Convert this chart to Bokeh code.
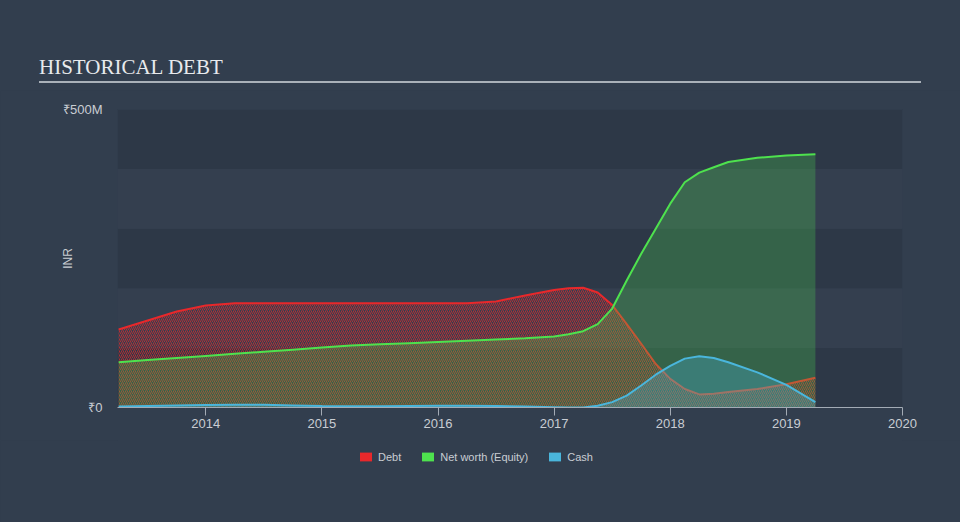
from bokeh.plotting import figure
from bokeh.models import (FixedTicker, Legend, LegendItem, Range1d, ColumnDataSource, Div)
from bokeh.layouts import column
from bokeh.embed import file_html
from bokeh.resources import INLINE

# ---------------- data (values in ₹ millions) ----------------
dates = [2013.25, 2013.5, 2013.75, 2014.0, 2014.25, 2014.5, 2014.75, 2015.0, 2015.25,
         2015.5, 2015.75, 2016.0, 2016.25, 2016.5, 2016.75, 2017.0, 2017.125, 2017.25,
         2017.375, 2017.5, 2017.625, 2017.75, 2017.875, 2018.0, 2018.125, 2018.25,
         2018.375, 2018.5, 2018.75, 2019.0, 2019.25]
debt = [131, 146, 161, 171, 175, 175, 175, 175, 175,
        175, 175, 175, 175, 178, 188, 197, 200, 201,
        193, 172, 140, 107, 73, 48, 31, 22,
        23, 26, 31, 39, 50]
equity = [76, 79.5, 83, 86.5, 90, 93.5, 97, 100.5, 104,
          106, 108, 110, 112, 114, 116, 119, 123, 128,
          140, 166, 213, 258, 300, 342, 378, 394,
          403, 412, 419, 423, 425]
cash = [1.5, 2.5, 3.5, 4, 4.5, 4.5, 3.5, 2.5, 2,
        2, 2.5, 3, 3, 2.5, 1.5, 0.5, 0, 0,
        3, 9, 20, 37, 55, 70, 82, 86,
        83, 76, 59, 38, 9]
year_ticks = [2014, 2015, 2016, 2017, 2018, 2019, 2020]
y_ticks = [0, 500]
y_tick_labels = {0: "₹0", 500: "₹500M"}
band_bottoms = [0, 100, 200, 300, 400]
band_tops = [100, 200, 300, 400, 500]
series_names = ["Debt", "Net worth (Equity)", "Cash"]
title_text = "HISTORICAL DEBT"
y_label = "INR"

# ---------------- style ----------------
BG = "#323e4e"
BAND_DARK = "#2d3847"
BAND_LIGHT = "#343f4f"
RED = "#e8282b"
GREEN = "#4ee24e"
BLUE = "#4ab6dc"
TXT = "#c9cdd3"

X0, X1 = 2013.24, 2020.0
HEAD = 90                              # heading strip height
FL, FR, FT, FB = 117, 902, 109, 407    # frame in page pixels
MAIN_BOTTOM = 440                      # bottom of main figure on the page
LEG_H = 522 - MAIN_BOTTOM

head = Div(
    text=(f'<div style="position:relative;width:960px;height:{HEAD}px;">'
          f'<div style="position:absolute;left:39px;top:57px;font-family:\'Liberation Serif\';'
          f'font-size:21px;line-height:21px;color:#e8eaed;white-space:nowrap;">{title_text}</div>'
          f'<div style="position:absolute;left:39px;top:81px;width:882px;height:1.5px;'
          f'background:#aab1b9;"></div></div>'),
    width=960, height=HEAD, margin=0,
    styles={"background-color": BG},
)

p = figure(width=960, height=MAIN_BOTTOM - HEAD, output_backend="svg", toolbar_location=None,
           x_range=Range1d(X0, X1), y_range=Range1d(0, 500),
           min_border_left=FL, min_border_right=960 - FR,
           min_border_top=FT - HEAD, min_border_bottom=MAIN_BOTTOM - FB, margin=0)
p.background_fill_color = BG
p.border_fill_color = BG
p.outline_line_color = None
p.grid.visible = False

# horizontal bands
band_colors = [BAND_DARK if i % 2 == 0 else BAND_LIGHT for i in range(len(band_bottoms))]
p.quad(left=X0, right=X1, bottom=band_bottoms, top=band_tops, fill_color=band_colors,
       line_color=None)

src = ColumnDataSource(dict(x=dates, debt=debt, equity=equity, cash=cash))

# debt: hatched area + line
p.varea(x="x", y1=0, y2="debt", source=src, fill_alpha=0,
        hatch_pattern="/", hatch_color=RED, hatch_alpha=0.7, hatch_scale=4, hatch_weight=1)
p.line(x="x", y="debt", source=src, line_color=RED, line_width=2)

# equity: translucent area + line
p.varea(x="x", y1=0, y2="equity", source=src, fill_color=GREEN, fill_alpha=0.25)
p.line(x="x", y="equity", source=src, line_color=GREEN, line_width=2)

# cash
p.varea(x="x", y1=0, y2="cash", source=src, fill_color=BLUE, fill_alpha=0.3)
p.line(x="x", y="cash", source=src, line_color=BLUE, line_width=2)

# axes
xa = p.xaxis[0]
xa.ticker = FixedTicker(ticks=year_ticks)
xa.axis_line_color = "#a3abb5"
xa.major_tick_line_color = "#a3abb5"
xa.major_tick_in = 0
xa.major_tick_out = 8
xa.minor_tick_line_color = None
xa.major_label_text_color = TXT
xa.major_label_text_font = "Liberation Sans"
xa.major_label_text_font_size = "13px"
xa.major_label_standoff = 3

ya = p.yaxis[0]
ya.ticker = FixedTicker(ticks=y_ticks)
ya.major_label_overrides = y_tick_labels
ya.axis_line_color = None
ya.major_tick_line_color = None
ya.minor_tick_line_color = None
ya.major_label_text_color = TXT
ya.major_label_text_font = "Liberation Sans"
ya.major_label_text_font_size = "13px"
ya.major_label_standoff = 9
ya.axis_label = y_label
ya.axis_label_text_font = "Liberation Sans"
ya.axis_label_text_font_style = "normal"
ya.axis_label_text_font_size = "12px"
ya.axis_label_text_color = TXT
ya.axis_label_standoff = -15

# legend strip (own small figure so the legend is not clipped; its frame aligns with p's)
lf = figure(width=960, height=LEG_H, output_backend="svg", toolbar_location=None,
            x_range=Range1d(0, 10), y_range=Range1d(0, 10),
            x_axis_type=None, y_axis_type=None, min_border=0, margin=0)
lf.background_fill_color = BG
lf.border_fill_color = BG
lf.outline_line_color = None
lf.grid.visible = False
legend_colors = [RED, GREEN, BLUE]
items = []
for name, col in zip(series_names, legend_colors):
    # one swatch each, placed outside the visible range; used only for the legend glyph
    r = lf.quad(left=[-20], right=[-19], top=[-19], bottom=[-20], fill_color=col,
                line_color=None)
    items.append(LegendItem(label=name, renderers=[r]))
leg_top = 451.5 - MAIN_BOTTOM
leg = Legend(items=items, orientation="horizontal",
             location=(358 - FL, LEG_H - leg_top - 11),
             glyph_width=15, glyph_height=11, label_height=11, label_standoff=5,
             spacing=19, padding=0, margin=0, background_fill_alpha=0,
             border_line_color=None, label_text_font="Liberation Sans",
             label_text_font_size="11px", label_text_color=TXT)
lf.add_layout(leg, "center")

layout = column(head, p, lf, spacing=0, margin=0, styles={"background-color": BG})
open("out.html", "w").write(file_html(layout, INLINE))
